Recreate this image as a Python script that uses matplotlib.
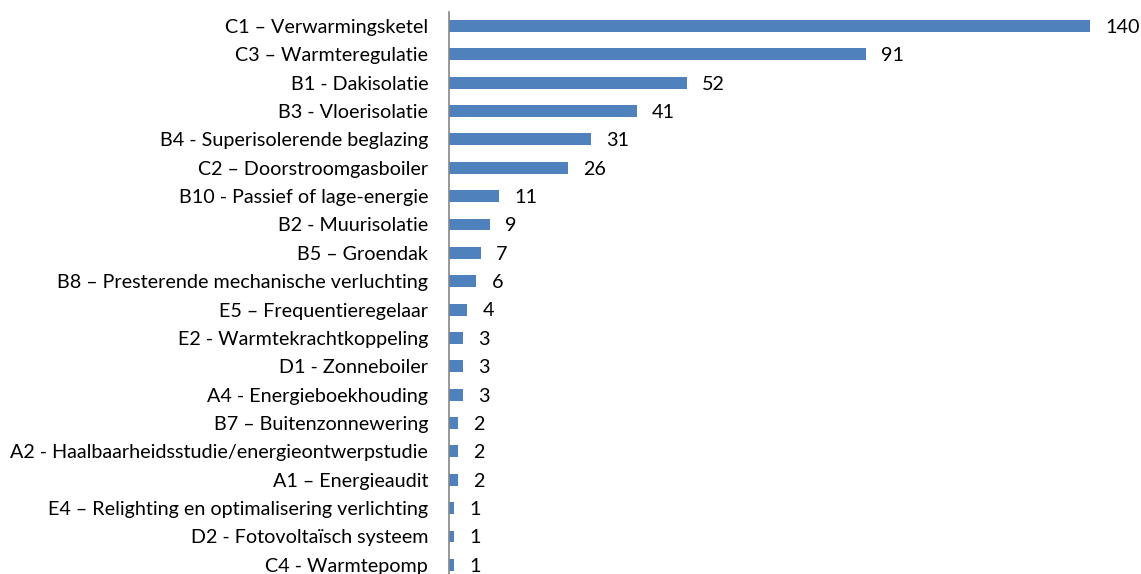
import matplotlib
matplotlib.use("Agg")
import matplotlib.pyplot as plt

categories = [
    "C1 – Verwarmingsketel",
    "C3 – Warmteregulatie",
    "B1 - Dakisolatie",
    "B3 - Vloerisolatie",
    "B4 - Superisolerende beglazing",
    "C2 – Doorstroomgasboiler",
    "B10 - Passief of lage-energie",
    "B2 - Muurisolatie",
    "B5 – Groendak",
    "B8 – Presterende mechanische verluchting",
    "E5 – Frequentieregelaar",
    "E2 - Warmtekrachtkoppeling",
    "D1 - Zonneboiler",
    "A4 - Energieboekhouding",
    "B7 – Buitenzonnewering",
    "A2 - Haalbaarheidsstudie/energieontwerpstudie",
    "A1 – Energieaudit",
    "E4 – Relighting en optimalisering verlichting",
    "D2 - Fotovoltaïsch systeem",
    "C4 - Warmtepomp",
]
values = [140, 91, 52, 41, 31, 26, 11, 9, 7, 6, 4, 3, 3, 3, 2, 2, 2, 1, 1, 1]

plt.rcParams['font.family'] = ['Lato', 'DejaVu Sans']

W, H = 1141, 574
fig = plt.figure(figsize=(W / 100, H / 100), dpi=100)
left, right = 449 / W, 1090 / W
top_px, bot_px = 11.8, 579.0
ax = fig.add_axes([left, (H - bot_px) / H, right - left, (bot_px - top_px) / H])

y = list(range(len(categories)))
ax.barh(y, values, height=0.42, color="#4F81BD")
ax.set_xlim(0, 140)
ax.set_ylim(len(categories) - 0.5, -0.5)
ax.set_yticks(y)
ax.set_yticklabels(categories, fontsize=14.2, color="black")
ax.tick_params(axis='y', length=0, pad=15)
ax.set_xticks([])
for s in ["top", "right", "bottom"]:
    ax.spines[s].set_visible(False)
ax.spines["left"].set_color("#868686")
ax.spines["left"].set_linewidth(1.2)

for yi, v in zip(y, values):
    ax.annotate(str(v), xy=(v, yi), xytext=(11, -1), textcoords="offset points",
                va="center", ha="left", fontsize=14.2, color="black",
                annotation_clip=False)

fig.savefig("out.png", dpi=100)
